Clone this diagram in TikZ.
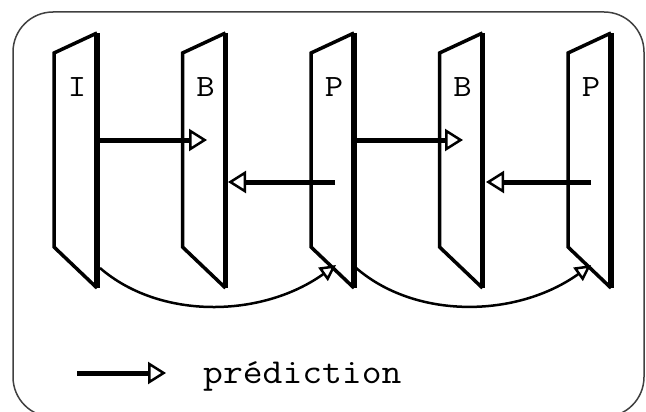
\documentclass[tikz,border=0pt]{standalone}
\usepackage{fontspec}
\usepackage{graphicx}
\usetikzlibrary{arrows.meta}
\begin{document}
\begin{tikzpicture}[x=1pt,y=-1pt,
  frameside/.style={line width=3.5pt, line join=miter},
  frameback/.style={line width=5.5pt},
  pred/.style={line width=5pt, -{Triangle[open,length=18pt,width=22pt,line width=2.5pt]}},
  refarc/.style={line width=2.5pt, -{Triangle[open,length=16pt,width=16pt,line width=2.5pt]}},
  flabel/.style={font=\fontsize{31}{36}\selectfont\ttfamily, anchor=base, inner sep=0pt},
  legendtext/.style={font=\fontsize{35}{40}\selectfont\ttfamily, anchor=base west, inner sep=0pt}]
\useasboundingbox (0,0) rectangle (646,412);

% outer frame
\draw[line width=1.5pt, black!75, rounded corners=40pt] (13,12) rectangle (644,417);

% picture frames drawn as slanted planes
\foreach \n/\t [count=\k from 0] in {fI/I,fB/B,fP/P,fBB/B,fPP/P} {
  \begin{scope}[shift={(54+128.5*\k,0)}]
    \coordinate (\n-lt) at (0,53);
    \coordinate (\n-lb) at (0,247);
    \coordinate (\n-rt) at (43,33);
    \coordinate (\n-rb) at (43,288);
    \draw[frameside] (\n-rt) -- (\n-lt) -- (\n-lb) -- (\n-rb);
    \draw[frameback] (\n-rt) -- (\n-rb);
    \node[flabel] (\n-lab) at (23,97) {\scalebox{1.15}[1]{\t}};
  \end{scope}
}

% forward predictions
\coordinate (fwd1s) at (97,140);  \coordinate (fwd1e) at (207,140);
\coordinate (fwd2s) at (354,140); \coordinate (fwd2e) at (463,140);
\draw[pred] (fwd1s) -- (fwd1e);
\draw[pred] (fwd2s) -- (fwd2e);

% backward predictions
\coordinate (bwd1s) at (335,182); \coordinate (bwd1e) at (228,182);
\coordinate (bwd2s) at (591,182); \coordinate (bwd2e) at (486,182);
\draw[pred] (bwd1s) -- (bwd1e);
\draw[pred] (bwd2s) -- (bwd2e);

% reference arcs between anchor pictures
\coordinate (arc1s) at (100,268); \coordinate (arc1e) at (336,265);
\coordinate (arc2s) at (355,267); \coordinate (arc2e) at (591,265);
\draw[refarc] (arc1s) .. controls (160,320) and (262,318) .. (arc1e);
\draw[refarc] (arc2s) .. controls (415,320) and (517,318) .. (arc2e);

% legend
\coordinate (leg1) at (77,373); \coordinate (leg2) at (166,373);
\draw[pred] (leg1) -- (leg2);
\node[legendtext] (legtext) at (203,383) {\scalebox{1.1}[1]{prédiction}};
\end{tikzpicture}
\end{document}
